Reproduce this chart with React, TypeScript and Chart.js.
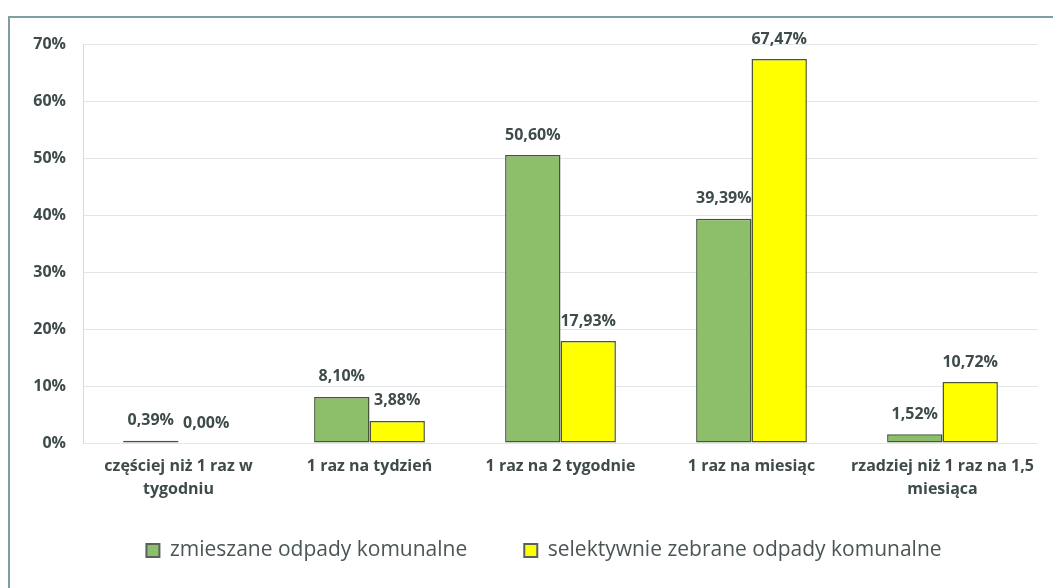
import React, { useEffect, useRef } from "react";
import { Chart, registerables } from "chart.js";

Chart.register(...registerables);

const categories: string[][] = [
  ["częściej niż 1 raz w", "tygodniu"],
  ["1 raz na tydzień"],
  ["1 raz na 2 tygodnie"],
  ["1 raz na miesiąc"],
  ["rzadziej niż 1 raz na 1,5", "miesiąca"],
];
const seriesNames = ["zmieszane odpady komunalne", "selektywnie zebrane odpady komunalne"];
const mixedValues = [0.39, 8.1, 50.6, 39.39, 1.52];
const selectiveValues = [0.0, 3.88, 17.93, 67.47, 10.72];
const yTicks = [0, 10, 20, 30, 40, 50, 60, 70];

const FONT = "'Open Sans', 'Noto Sans', sans-serif";
const TEXT = "#3f4b4b";

const valueLabels = {
  id: "valueLabels",
  afterDatasetsDraw(chart: any) {
    const ctx = chart.ctx;
    ctx.save();
    ctx.font = `bold 16px ${FONT}`;
    ctx.fillStyle = TEXT;
    ctx.textAlign = "center";
    ctx.textBaseline = "middle";
    chart.data.datasets.forEach((ds: any, di: number) => {
      const meta = chart.getDatasetMeta(di);
      meta.data.forEach((bar: any, i: number) => {
        const v = ds.data[i] as number;
        const txt = v.toFixed(2).replace(".", ",") + "%";
        ctx.fillText(txt, bar.x, bar.y - 20);
      });
    });
    ctx.restore();
  },
};

export default function App() {
  const ref = useRef<HTMLCanvasElement | null>(null);
  useEffect(() => {
    if (!ref.current) return;
    const chart = new Chart(ref.current, {
      type: "bar",
      data: {
        labels: categories,
        datasets: [
          {
            label: seriesNames[0],
            data: mixedValues,
            backgroundColor: "#8dbf6b",
            borderColor: "#46553a",
            borderWidth: 1.5,
            borderSkipped: false,
            categoryPercentage: 0.58,
            barPercentage: 1.0,
          },
          {
            label: seriesNames[1],
            data: selectiveValues,
            backgroundColor: "#ffff00",
            borderColor: "#4f5530",
            borderWidth: 1.5,
            borderSkipped: false,
            categoryPercentage: 0.58,
            barPercentage: 1.0,
          },
        ],
      },
      options: {
        animation: false,
        responsive: false,
        layout: { padding: { left: 0, right: 0, top: 24, bottom: 17 } },
        plugins: {
          tooltip: { enabled: false },
          legend: {
            position: "bottom",
            labels: {
              boxWidth: 13,
              boxHeight: 13,
              padding: 57,
              color: "#4a5555",
              font: { family: FONT, size: 21 },
              generateLabels: (chart: any) =>
                chart.data.datasets.map((ds: any, i: number) => ({
                  text: ds.label,
                  fillStyle: ds.backgroundColor,
                  strokeStyle: "#59625a",
                  lineWidth: 2,
                  datasetIndex: i,
                  fontColor: "#4a5555",
                })),
            },
          },
        },
        scales: {
          x: {
            afterFit: (s: any) => {
              s.height = 40;
            },
            grid: {
              display: true,
              drawTicks: false,
              color: (c: any) => (c.index === categories.length ? "#dfe4e6" : "rgba(0,0,0,0)"),
            },
            border: { display: false },
            ticks: {
              color: TEXT,
              mirror: true,
              padding: -35,
              font: { family: FONT, size: 16, weight: "bold", lineHeight: 1.44 },
            },
          },
          y: {
            min: 0,
            max: 70,
            afterFit: (s: any) => {
              s.width = 73;
            },
            afterBuildTicks: (s: any) => {
              s.ticks = yTicks.map((v) => ({ value: v }));
            },
            grid: { color: "#e2e6e8", drawTicks: false },
            border: { display: true, color: "#d6dde0" },
            ticks: {
              color: TEXT,
              padding: 17,
              font: { family: FONT, size: 16, weight: "bold" },
              callback: (v: any) => v + "%",
            },
          },
          yRight: {
            position: "right",
            min: 0,
            max: 70,
            afterFit: (s: any) => {
              s.width = 40;
            },
            grid: { display: false, drawTicks: false },
            border: { display: false },
            ticks: { display: false },
          },
        },
      },
      plugins: [valueLabels],
    });
    return () => chart.destroy();
  }, []);

  return (
    <div style={{ position: "fixed", left: 0, top: 0, width: "100vw", height: "100vh", overflow: "hidden", background: "#fff" }}>
      <div
        style={{
          position: "absolute",
          left: 8,
          top: 16,
          width: 1100,
          height: 620,
          border: "2px solid #7f9ea1",
        }}
      >
        <canvas ref={ref} width={1068} height={570} style={{ position: "absolute", left: 0, top: 0, width: 1068, height: 570 }} />
      </div>
    </div>
  );
}
